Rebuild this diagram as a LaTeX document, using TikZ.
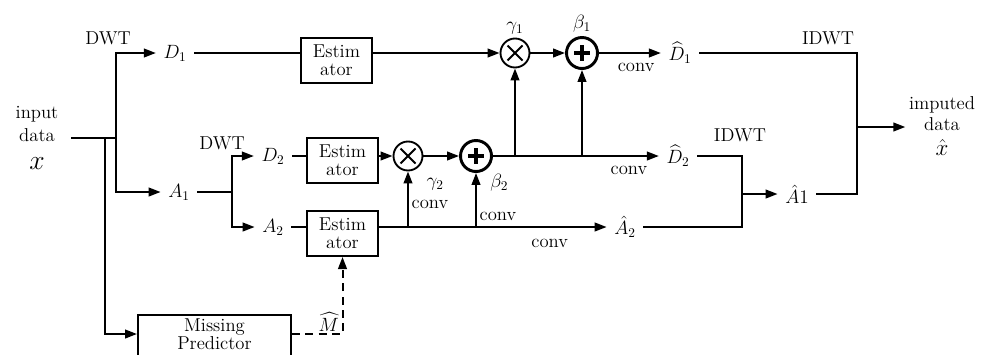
\documentclass[tikz,border=0pt]{standalone}
\usepackage{amsmath}
\usepackage{amssymb}
\usepackage{tikz}
\usetikzlibrary{arrows.meta,positioning}

\tikzset{
    box/.style={draw, minimum width=53.25pt, minimum height=33.75pt, inner sep=0pt, align=center},
    lbl/.style={inner sep=2pt},
    sig/.style={inner xsep=5pt, inner ysep=2pt},
    arr/.style={-{Triangle[length=9pt,width=6.5pt]}},
    mul/.style={circle, draw, line width=1.4pt, minimum size=21.75pt, inner sep=0pt,
        path picture={\draw[line width=1.4pt, shift={(path picture bounding box.center)}] (-7.5,-7.5) -- (7.5,7.5) (-7.5,7.5) -- (7.5,-7.5);}},
    add/.style={circle, draw, line width=2.2pt, minimum size=23.25pt, inner sep=0pt,
        path picture={\draw[line width=2.6pt, shift={(path picture bounding box.center)}] (-8,0) -- (8,0) (0,-8) -- (0,8);}},
}

\begin{document}
\begin{tikzpicture}[x=0.75pt, y=-0.75pt, line width=1.5pt, font=\fontsize{14}{13.5}\selectfont]
    \useasboundingbox (0,0) rectangle (984,354);
    \clip (0,0) rectangle (984,354);

    % input, first DWT
    \node[lbl, align=center, font=\fontsize{14}{17}\selectfont] (in) at (37,138) {input\\data\\[4pt]{\fontsize{21}{21}\selectfont$x$}};
    \node[lbl] (dwt1) at (108,38) {DWT};
    \node[sig] (d1) at (175,53) {$D_1$};
    \node[sig] (a1) at (179,192) {$A_1$};
    \coordinate (s0) at (71,138);
    \coordinate (j0) at (105,138);
    \coordinate (j1) at (116,138);
    \draw (s0) -- (j1);
    \draw[arr] (j1) |- (d1);
    \draw[arr] (j1) |- (a1);

    % second DWT
    \node[lbl] (dwt2) at (222,143) {DWT};
    \node[sig] (d2) at (273,156) {$D_2$};
    \node[sig] (a2) at (273,227) {$A_2$};
    \coordinate (j2) at (232,192);
    \draw (a1) -- (j2);
    \draw[arr] (j2) |- (d2);
    \draw[arr] (j2) |- (a2);

    % estimators and modulation
    \node[box] (est1) at (336.5,60.5) {Estim\\ator};
    \node[box] (est2) at (342.5,160.5) {Estim\\ator};
    \node[box] (est3) at (342.5,233.5) {Estim\\ator};
    \node[mul, label={[lbl]above:$\gamma_1$}] (mul1) at (515,53) {};
    \node[add, label={[lbl]above:$\beta_1$}] (add1) at (582,53) {};
    \node[mul, label={[anchor=north west, inner sep=0pt, xshift=5pt, yshift=-8pt]south east:$\gamma_2$}] (mul2) at (408,156) {};
    \node[add, label={[anchor=north west, inner sep=0pt, xshift=1pt, yshift=-4pt]south east:$\beta_2$}] (add2) at (476,156) {};
    \draw (d1) -- (d1 -| est1.west);
    \draw[arr] (est1.east |- mul1) -- (mul1);
    \draw[arr] (mul1) -- (add1);
    \draw (d2) -- (d2 -| est2.west);
    \draw[arr] (est2.east |- mul2) -- (mul2);
    \draw[arr] (mul2) -- (add2);
    \draw (a2) -- (a2 -| est3.west);

    % reconstructed coefficients
    \node[sig] (d1h) at (680,53) {$\widehat{D}_1$};
    \node[sig] (d2h) at (678,156) {$\widehat{D}_2$};
    \node[sig] (a2h) at (625,227) {$\hat{A}_2$};
    \draw[arr] (add1) -- node[lbl, below=5pt, pos=0.6] {conv} (d1h);
    \draw[arr] (add2) -- node[lbl, below=5pt, pos=0.82] {conv} (d2h);
    \draw[arr] (mul1 |- add2) -- (mul1);
    \draw[arr] (add1 |- add2) -- (add1);
    \draw[arr] (est3.east |- a2h) -- node[lbl, below=6.5pt, pos=0.75] {conv} (a2h);
    \draw[arr] (mul2 |- a2h) -- node[lbl, right, pos=0.4] {conv} (mul2);
    \draw[arr] (add2 |- a2h) -- node[lbl, right, pos=0.2] {conv} (add2);

    % missing predictor
    \node[draw, minimum width=114.75pt, minimum height=45pt, anchor=north] (miss) at (214.5,314) {};
    \node[lbl, align=center] (misstxt) at (214.5,334) {Missing\\Predictor};
    \draw[arr] (j0) |- (miss.west |- misstxt);
    \draw[arr, dash pattern=on 6pt off 4pt] (miss.east |- misstxt) -| node[lbl, left, pos=0.58] {$\widehat{M}$} (est3);

    % IDWT
    \node[lbl] (idwt2) at (740,135) {IDWT};
    \node[sig] (ah1) at (797,194) {$\hat{A}1$};
    \coordinate (c3) at (742,156);
    \draw (d2h) -- (c3) |- (a2h);
    \draw[arr] (c3 |- ah1) -- (ah1);
    \node[lbl] (idwt1) at (828,38) {IDWT};
    \node[lbl, align=center, font=\fontsize{14}{16}\selectfont] (out) at (942,126) {imputed\\data\\[3pt]{\fontsize{17}{17}\selectfont$\hat{x}$}};
    \coordinate (c1) at (857,53);
    \coordinate (j5) at (857,127);
    \draw (d1h) -- (c1) |- (ah1);
    \draw[arr] (j5) -- (j5 -| out.west);
\end{tikzpicture}
\end{document}
